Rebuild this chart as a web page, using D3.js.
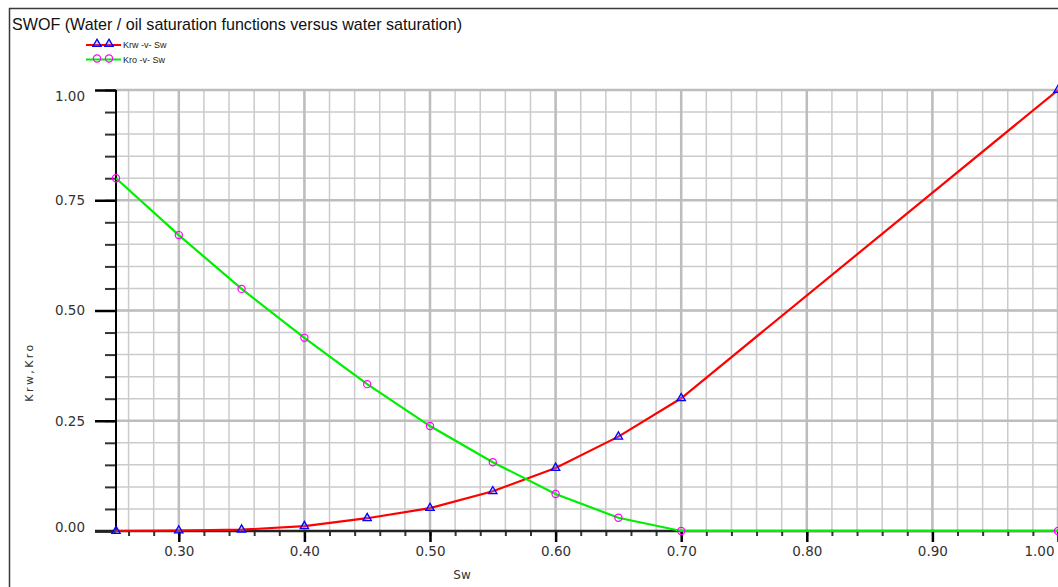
<!DOCTYPE html>
<html>
<head>
<meta charset="utf-8">
<script src="https://cdn.jsdelivr.net/npm/d3@7/dist/d3.min.js"></script>
<style>
  html, body { margin: 0; padding: 0; background: #fff; }
  svg { display: block; }
</style>
</head>
<body>
<div id="chart"></div>
<script>
// water saturation and relative permeabilities
const sw = [0.25, 0.30, 0.35, 0.40, 0.45, 0.50, 0.55, 0.60, 0.65, 0.70, 1.00];
const krw = [0, 0.001, 0.003, 0.011, 0.029, 0.052, 0.09, 0.143, 0.214, 0.301, 1.0];
const kro = [0.80, 0.671, 0.549, 0.438, 0.333, 0.238, 0.156, 0.084, 0.030, 0, 0];
const xMajor = [0.30, 0.40, 0.50, 0.60, 0.70, 0.80, 0.90, 1.00];
const yMajor = [0, 0.25, 0.5, 0.75, 1.0];
const xMinor = d3.range(0, 38).map((i) => +(0.26 + i * 0.02).toFixed(2));
const yMinor = d3.range(1, 21).map((i) => +(i * 0.05).toFixed(2));
const seriesNames = ['Krw -v- Sw', 'Kro -v- Sw'];
const title = 'SWOF (Water / oil saturation functions versus water saturation)';

const width = 1058;
const height = 587;
const plotLeft = 116;
const plotTop = 90;
const plotBottom = 531;
const plotRight = 1058;

const svg = d3
  .select('#chart')
  .append('svg')
  .attr('width', width)
  .attr('height', height);

const x = d3.scaleLinear().domain([0.25, 1.0]).range([plotLeft, plotRight]);
const y = d3.scaleLinear().domain([0, 1.0]).range([plotBottom, plotTop]);

// frame
svg.append('line')
  .attr('x1', 9.5).attr('x2', 9.5).attr('y1', 8).attr('y2', height)
  .attr('stroke', '#3a3a3a').attr('stroke-width', 1.5);
svg.append('line')
  .attr('x1', 9).attr('x2', width).attr('y1', 8.5).attr('y2', 8.5)
  .attr('stroke', '#3a3a3a').attr('stroke-width', 1.5);

svg.append('text')
  .attr('x', 12)
  .attr('y', 30)
  .attr('font-family', 'Liberation Sans, Arial, sans-serif')
  .attr('font-size', 17)
  .attr('fill', '#111')
  .attr('textLength', 450)
  .attr('lengthAdjust', 'spacingAndGlyphs')
  .text(title);

// grid
const grid = svg.append('g').attr('class', 'grid');
grid.selectAll('.vminor')
  .data(xMinor)
  .enter()
  .append('line')
  .attr('x1', (d) => x(d)).attr('x2', (d) => x(d))
  .attr('y1', plotTop).attr('y2', plotBottom)
  .attr('stroke', '#cbcbcb').attr('stroke-width', 1.5);
grid.selectAll('.hminor')
  .data(yMinor)
  .enter()
  .append('line')
  .attr('x1', plotLeft).attr('x2', plotRight)
  .attr('y1', (d) => y(d)).attr('y2', (d) => y(d))
  .attr('stroke', '#cbcbcb').attr('stroke-width', 1.5);
grid.selectAll('.vmajor')
  .data(xMajor)
  .enter()
  .append('line')
  .attr('x1', (d) => x(d)).attr('x2', (d) => x(d))
  .attr('y1', plotTop).attr('y2', plotBottom)
  .attr('stroke', '#bdbdbd').attr('stroke-width', 2.5);
grid.selectAll('.hmajor')
  .data(yMajor.slice(1))
  .enter()
  .append('line')
  .attr('x1', plotLeft).attr('x2', plotRight)
  .attr('y1', (d) => y(d)).attr('y2', (d) => y(d))
  .attr('stroke', '#bdbdbd').attr('stroke-width', 2.5);

// axes
const tickFont = 'DejaVu Sans, Verdana, sans-serif';
const yAxisMinor = svg.append('g')
  .attr('transform', `translate(${plotLeft},0)`)
  .call(d3.axisLeft(y).tickValues(yMinor).tickSize(11).tickFormat(''));
const yAxis = svg.append('g')
  .attr('transform', `translate(${plotLeft},0)`)
  .call(d3.axisLeft(y).tickValues(yMajor).tickSize(21).tickPadding(10).tickFormat(d3.format('.2f')));
const xAxisMinor = svg.append('g')
  .attr('transform', `translate(0,${plotBottom})`)
  .call(d3.axisBottom(x).tickValues(xMinor).tickSize(5).tickFormat(''));
const xAxis = svg.append('g')
  .attr('transform', `translate(0,${plotBottom})`)
  .call(d3.axisBottom(x).tickValues(xMajor).tickSize(11).tickPadding(4).tickFormat(d3.format('.2f')));

[yAxisMinor, yAxis, xAxisMinor, xAxis].forEach((g) => g.select('.domain').remove());
[yAxisMinor, xAxisMinor].forEach((g) =>
  g.selectAll('.tick line').attr('stroke', '#333').attr('stroke-width', 2));
[yAxis, xAxis].forEach((g) => {
  g.selectAll('.tick line').attr('stroke', '#000').attr('stroke-width', 2.5);
  g.selectAll('.tick text')
    .attr('font-family', tickFont)
    .attr('font-size', 13.5)
    .attr('fill', '#333');
});
// the end labels are pulled inside the plot like the original
yAxis.selectAll('.tick text')
  .attr('dy', (d) => (d === 1 ? '0.78em' : d === 0 ? '0.0em' : '0.32em'));
xAxis.selectAll('.tick text')
  .filter((d) => d === 1)
  .attr('text-anchor', 'end')
  .attr('dx', -4);

svg.append('line')
  .attr('x1', plotLeft).attr('x2', plotLeft).attr('y1', plotTop).attr('y2', plotBottom)
  .attr('stroke', '#000').attr('stroke-width', 2);
svg.append('line')
  .attr('x1', plotLeft - 21).attr('x2', plotRight).attr('y1', plotBottom).attr('y2', plotBottom)
  .attr('stroke', '#222').attr('stroke-width', 2.5);

svg.append('text')
  .attr('transform', 'translate(33,372) rotate(-90)')
  .attr('text-anchor', 'middle')
  .attr('font-family', tickFont)
  .attr('font-size', 11)
  .attr('letter-spacing', 2.4)
  .attr('fill', '#333')
  .text('Krw,Kro');
svg.append('text')
  .attr('x', 462)
  .attr('y', 579)
  .attr('text-anchor', 'middle')
  .attr('font-family', tickFont)
  .attr('font-size', 12)
  .attr('fill', '#333')
  .text('Sw');

// series
const series = [
  { name: seriesNames[0], values: krw, color: '#ff0000', marker: 'triangle', markColor: '#0000ff' },
  { name: seriesNames[1], values: kro, color: '#00ee00', marker: 'circle', markColor: '#ff00ff' },
];
const tri = d3.symbol().type(d3.symbolTriangle).size(30);

function addMarker(g, s, cx, cy) {
  if (s.marker === 'triangle') {
    g.append('path')
      .attr('d', tri())
      .attr('transform', `translate(${cx},${cy})`)
      .attr('fill', 'rgba(120,120,255,0.35)')
      .attr('stroke', s.markColor)
      .attr('stroke-width', 1.3);
  } else {
    g.append('circle')
      .attr('cx', cx).attr('cy', cy).attr('r', 3.6)
      .attr('fill', 'none')
      .attr('stroke', s.markColor)
      .attr('stroke-width', 1.2);
  }
}

const line = d3.line().x((d, i) => x(sw[i])).y((d) => y(d));
const plot = svg.append('g');
series.forEach((s) => {
  plot.append('path')
    .attr('d', line(s.values))
    .attr('fill', 'none')
    .attr('stroke', s.color)
    .attr('stroke-width', 2.2);
});
series.forEach((s) => {
  s.values.forEach((v, i) => addMarker(plot, s, x(sw[i]), y(v)));
});

// legend
const legend = svg.append('g');
series.forEach((s, i) => {
  const ly = 45 + i * 14.5;
  legend.append('line')
    .attr('x1', 86).attr('x2', 121).attr('y1', ly).attr('y2', ly)
    .attr('stroke', s.color).attr('stroke-width', 2.2);
  [97, 109].forEach((mx) => addMarker(legend, s, mx, ly - 1));
  legend.append('text')
    .attr('x', 123)
    .attr('y', ly + 3)
    .attr('font-family', 'Liberation Sans, Arial, sans-serif')
    .attr('font-size', 9)
    .attr('fill', '#222')
    .text(s.name);
});
</script>
</body>
</html>
